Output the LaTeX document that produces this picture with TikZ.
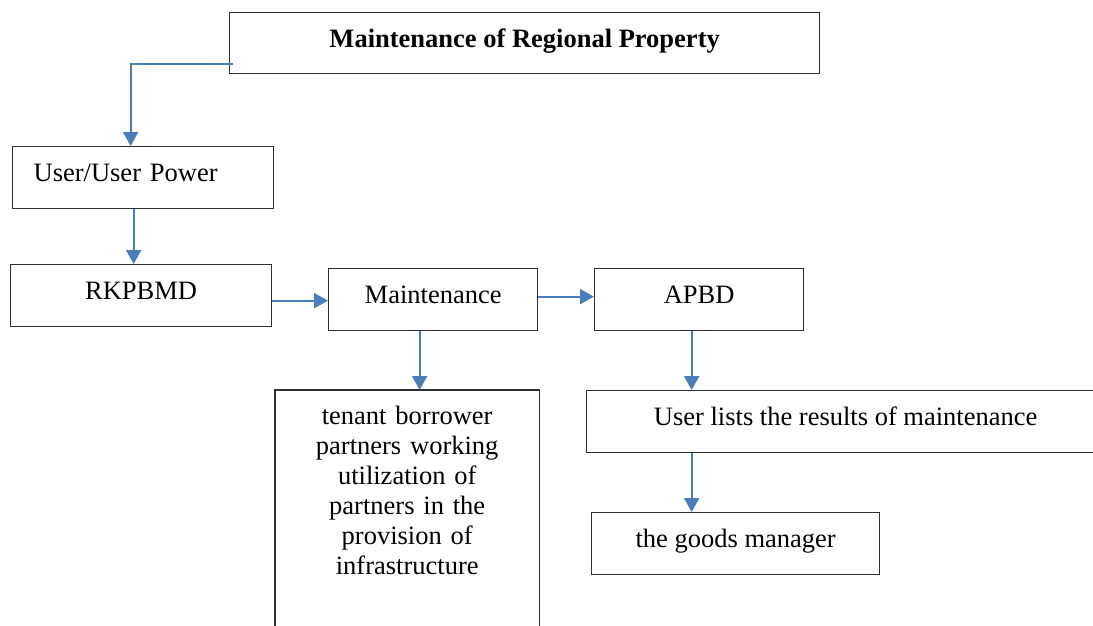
\documentclass[tikz,border=0pt]{standalone}
\usepackage{fontspec}
\setmainfont{Liberation Serif}
\usetikzlibrary{arrows.meta}
\definecolor{flowblue}{HTML}{4A7EBB}
\definecolor{boxgray}{HTML}{303030}
\tikzset{
  boxline/.style={draw=boxgray, line width=1.3pt},
  stepbox/.style={boxline, rectangle, anchor=north west, inner sep=0pt,
    font=\fontsize{26.5}{30}\selectfont, text height=18.5pt, text depth=10.3pt},
  flow/.style={draw=flowblue, line width=2pt, -{Triangle[length=14pt,width=15pt]}}
}
\begin{document}
\begin{tikzpicture}[x=1pt, y=-1pt]
  \clip (0,0) rectangle (1093,626);
  \fill[white] (0,0) rectangle (1093,626);

  % boxes
  \node[stepbox, minimum width=590pt, minimum height=61pt, font=\fontsize{26.5}{30}\selectfont\bfseries]
    (title) at (229,12) {Maintenance of Regional Property};
  \node[stepbox, minimum width=261pt, minimum height=62pt, text width=219pt, inner xsep=21pt, align=left]
    (user) at (12,146) {User/User Power};
  \node[stepbox, minimum width=261pt, minimum height=62pt] (rkp) at (10,264) {RKPBMD};
  \node[stepbox, minimum width=209pt, minimum height=62pt] (maint) at (328,268) {Maintenance};
  \node[stepbox, minimum width=209pt, minimum height=62pt] (apbd) at (594,268) {APBD};
  \node[anchor=north west, minimum width=264pt, text width=240pt, inner xsep=12pt, inner ysep=16pt,
        align=center, font=\fontsize{26.5}{30}\selectfont]
    (tenant) at (275,390) {tenant borrower\\ partners working\\ utilization of\\ partners in the\\ provision of\\ infrastructure};
  \draw[boxline] (tenant.north west) rectangle ([yshift=-260pt]tenant.north east);
  \node[stepbox, minimum width=518pt, minimum height=62pt] (lists) at (586,390) {User lists the results of maintenance};
  \node[stepbox, minimum width=288pt, minimum height=62pt] (goods) at (591,512) {the goods manager};

  % connectors
  \coordinate (start) at ([xshift=4pt, yshift=10pt]title.south west);
  \draw[flow] (start) -| ([xshift=-12.5pt]user.north);
  \draw[flow] ([xshift=-9.5pt]user.south) -- ([xshift=-9.5pt]user.south |- rkp.north);
  \draw[flow] ([yshift=-5pt]rkp.east) -- ([yshift=-5pt]rkp.east -| maint.west);
  \draw[flow] ([yshift=3pt]maint.east) -- ([yshift=3pt]maint.east -| apbd.west);
  \draw[flow] ([xshift=-13.5pt]maint.south) -- ([xshift=-13.5pt]maint.south |- tenant.north);
  \draw[flow] ([xshift=-7.5pt]apbd.south) -- ([xshift=-7.5pt]apbd.south |- lists.north);
  \draw[flow] ([xshift=-7.5pt]apbd.south |- lists.south) -- ([xshift=-7.5pt]apbd.south |- goods.north);
\end{tikzpicture}
\end{document}
